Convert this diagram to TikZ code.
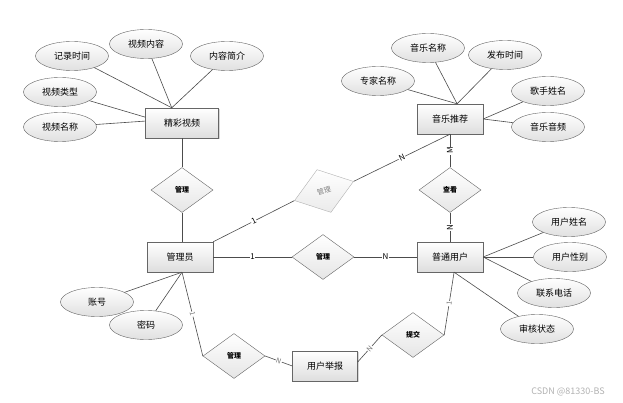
\documentclass[tikz,border=0pt]{standalone}
\usepackage{fontspec}
\setmainfont{Noto Sans CJK SC}
\usetikzlibrary{shapes.geometric,shadows}
\tikzset{
  ent/.style={draw=black!60, top color=white, bottom color=black!13, minimum width=66pt, minimum height=30pt,
    inner sep=0pt, font=\fontsize{9}{9}\selectfont, drop shadow={shadow xshift=1pt, shadow yshift=-1pt, opacity=.3}},
  attr/.style={ellipse, draw=black!60, top color=white, bottom color=black!12, minimum width=73pt, minimum height=29pt,
    inner sep=0pt, font=\fontsize{9}{9}\selectfont},
  rel/.style={diamond, draw=black!60, top color=white, bottom color=black!10, minimum width=62pt, minimum height=45pt,
    inner sep=0pt, font=\fontsize{7}{7}\selectfont\bfseries},
  ln/.style={draw=black!70, line width=0.6pt},
  lbl/.style={fill=white, inner sep=0.6pt, font=\fontsize{8}{8}\selectfont},
  lbls/.style={lbl, text=black!55, font=\fontsize{7}{7}\selectfont},
}
\begin{document}
\begin{tikzpicture}[x=1pt,y=-1pt]
    \useasboundingbox[fill=white] (0,0) rectangle (623,403);
    % entities
    \node[ent, minimum width=73pt] (jcsp) at (182,123) {精彩视频};
    \node[ent] (yytj) at (450,119) {音乐推荐};
    \node[ent] (gly) at (180,257) {管理员};
    \node[ent] (ptyh) at (450,257) {普通用户};
    \node[ent, minimum width=65pt] (yhjb) at (325,366) {用户举报};
    % relations
    \node[rel] (gl1) at (182,190) {管理};
    \node[rel] (gl2) at (323,257) {管理};
    \node[rel] (gl3) at (234,356) {管理};
    \node[rel] (ck) at (450,190) {查看};
    \node[rel] (tj) at (413,335) {提交};
    \node[rel, rotate=18, draw=black!30, bottom color=black!8, text=black!50, font=\fontsize{7}{7}\selectfont] (gz) at (324,191) {管理};
    % attributes
    \foreach \n/\p/\t in {jl/{72,56}/记录时间, nr/{146,44}/视频内容, jj/{227,56}/内容简介, lx/{60,92}/视频类型, mc/{60,127}/视频名称,
        ym/{428,48}/音乐名称, fb/{505,55}/发布时间, zj/{378,81}/专家名称, gs/{548,91}/歌手姓名, yp/{548,127}/音乐音频,
        zh/{97,302}/账号, mm/{146,325}/密码,
        xm/{569,222}/用户姓名, xb/{570,257}/用户性别, dh/{554,293}/联系电话, zt/{537,329}/审核状态}
        \node[attr] (\n) at (\p) {\t};
    \foreach \n/\a in {jl/124, nr/124, jj/124, lx/171, mc/177}
        \draw[ln] (\n) -- (jcsp.\a);
    \foreach \n/\a in {ym/65, fb/65, zj/65, gs/east, yp/east}
        \draw[ln] (\n) -- (yytj.\a);
    \foreach \n/\a in {xm/east, xb/east, dh/east, zt/285}
        \draw[ln] (\n) -- (ptyh.\a);
    \foreach \n in {zh, mm}
        \draw[ln] (\n) -- (gly.south -| gl1);
    % links
    \draw[ln] (jcsp) -- (gl1) -- (gl1 |- gly.north);
    \draw[ln] (gly) -- node[lbl]{1} (gl2) -- node[lbl]{N} (ptyh);
    \draw[ln] (gly.north east) -- node[lbl, sloped]{1} (gz.west);
    \draw[ln] (gz.east) -- node[lbl, sloped]{N} (yytj.south);
    \draw[ln] (yytj.south) -- node[lbl, rotate=90]{M} (ck.north);
    \draw[ln] (ck.south) -- node[lbl, rotate=90]{N} (ptyh.north);
    \draw[ln] (gly.south -| gl1) -- node[lbls, sloped]{1} (gl3.west);
    \draw[ln] (gl3.east) -- node[lbls, sloped]{N} (yhjb.west);
    \draw[ln] (yhjb.7) -- node[lbls, sloped]{N} (tj.west);
    \draw[ln] (tj.east) -- node[lbls, sloped]{1} (ptyh.285);
    \node[text=black!30, font=\fontsize{9}{9}\selectfont] (wm) at (568,392) {CSDN @81330-BS};
\end{tikzpicture}
\end{document}
